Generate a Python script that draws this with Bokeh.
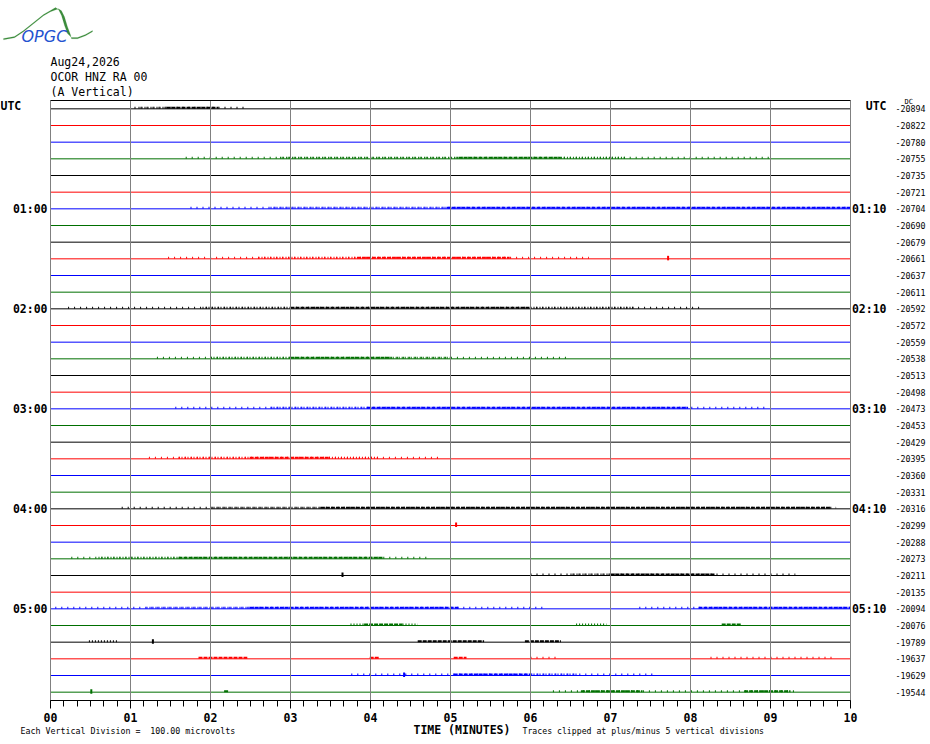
from bokeh.plotting import figure
from bokeh.models import Label, PolyAnnotation, FixedTicker, Range1d, ColumnDataSource, LinearAxis
from bokeh.embed import file_html
from bokeh.resources import INLINE

# ---------------- data ----------------
n_traces = 36
trace_colors = ["#000000", "#ff0000", "#0000ff", "#006f00"]
dc_values = [-20894, -20822, -20780, -20755, -20735, -20721, -20704, -20690, -20679,
             -20661, -20637, -20611, -20592, -20572, -20559, -20538, -20513, -20498,
             -20473, -20453, -20429, -20395, -20360, -20331, -20316, -20299, -20288,
             -20273, -20211, -20135, -20094, -20076, -19789, -19637, -19629, -19544]
left_hours = {0: "UTC", 6: "01:00", 12: "02:00", 18: "03:00", 24: "04:00", 30: "05:00"}
right_hours = {0: "UTC", 6: "01:10", 12: "02:10", 18: "03:10", 24: "04:10", 30: "05:10"}
minute_ticks = list(range(11))
minute_labels = ["00", "01", "02", "03", "04", "05", "06", "07", "08", "09", "10"]

# noisy stretches of each trace: (trace, start minute, end minute)
sparse_noise = [(0, 1.05, 2.46), (3, 1.69, 9.0), (6, 1.75, 10.0), (9, 1.47, 6.73),
                (12, 0.22, 8.16), (15, 1.33, 6.5), (18, 1.56, 8.96), (21, 1.23, 4.85),
                (24, 0.89, 9.82), (27, 0.26, 4.72), (28, 6.0, 9.31), (30, 0.06, 6.15),
                (30, 7.36, 10.0), (33, 6.0, 6.35), (33, 8.25, 9.8), (34, 3.76, 7.53),
                (35, 6.28, 9.34)]
medium_noise = [(0, 1.1, 1.45), (3, 2.87, 5.1), (3, 6.38, 7.2), (6, 2.75, 4.95),
                (9, 2.6, 3.83), (12, 1.9, 3.0), (12, 6.0, 7.3), (15, 2.0, 3.0),
                (15, 4.24, 5.0), (18, 2.75, 3.95), (21, 1.6, 2.49), (21, 3.48, 4.1),
                (24, 2.0, 3.38), (27, 0.6, 1.6), (28, 6.5, 7.0), (30, 1.2, 2.49),
                (31, 3.75, 3.92), (31, 4.4, 4.59), (31, 6.57, 6.95), (32, 0.48, 0.83),
                (34, 6.0, 6.6)]
dense_noise = [(0, 1.45, 2.1), (3, 5.1, 6.38), (6, 4.95, 10.0), (9, 3.83, 5.74),
               (12, 3.0, 6.0), (15, 3.0, 4.24), (18, 3.95, 7.97), (21, 2.49, 3.48),
               (24, 3.38, 9.76), (27, 1.6, 4.15), (28, 7.0, 8.3), (30, 2.49, 5.1),
               (30, 8.1, 10.0), (31, 3.92, 4.4), (31, 8.39, 8.64), (32, 4.59, 5.42),
               (32, 5.93, 6.38), (33, 1.85, 2.46), (33, 3.99, 4.11), (33, 5.04, 5.2),
               (34, 5.04, 6.0), (35, 2.17, 2.23), (35, 6.63, 7.4), (35, 8.67, 9.25)]
spikes = [(9, 7.72), (25, 5.07), (28, 3.65), (32, 1.28), (34, 4.42), (35, 0.51)]

# ---------------- geometry (page pixels) ----------------
W, H = 928, 740
X0_PX, PX_PER_MIN = 50, 80.0          # minute 0 at x=50, 80 px per minute
Y0_PX, PX_PER_TRACE = 100, 600 / 36   # top of trace area at y=100

def dx(px):   # page px -> minutes
    return (px - X0_PX) / PX_PER_MIN

def dy(py):   # page px -> trace units
    return (py - Y0_PX) / PX_PER_TRACE - 0.5

unit_px = PX_PER_TRACE

p = figure(width=W, height=H, x_range=Range1d(dx(0), dx(W)), y_range=Range1d(dy(H), dy(0)),
           output_backend="svg", toolbar_location=None, x_axis_location=None,
           y_axis_location=None, min_border=0)
p.outline_line_color = None
p.background_fill_color = "white"
p.border_fill_color = "white"
p.xgrid.visible = False
p.ygrid.visible = False

top_y = -0.5
bot_y = n_traces - 0.5

xa = LinearAxis(fixed_location=bot_y, bounds=(0, 10))
xa.ticker = FixedTicker(ticks=minute_ticks, minor_ticks=[i / 6 for i in range(61)])
xa.major_label_overrides = {t: l for t, l in zip(minute_ticks, minute_labels)}
xa.axis_line_color = "black"
xa.axis_line_width = 1
xa.major_tick_line_color = "black"
xa.minor_tick_line_color = "black"
xa.major_tick_in = 0
xa.major_tick_out = 8
xa.minor_tick_in = 0
xa.minor_tick_out = 6
xa.major_label_standoff = 4
xa.major_label_text_font = "DejaVu Sans Mono"
xa.major_label_text_font_style = "bold"
xa.major_label_text_font_size = "11.5px"
xa.major_label_text_color = "black"
p.add_layout(xa, "below")

# baselines
src = ColumnDataSource(dict(
    x0=[0] * n_traces, x1=[10] * n_traces, y=list(range(n_traces)),
    c=[trace_colors[i % 4] for i in range(n_traces)]))
p.segment(x0="x0", x1="x1", y0="y", y1="y", color="c", line_width=1, source=src)

def noise_src(rows, off):
    return ColumnDataSource(dict(
        x0=[r[1] for r in rows], x1=[r[2] for r in rows],
        y=[r[0] - off for r in rows], c=[trace_colors[r[0] % 4] for r in rows]))

p.segment(x0="x0", x1="x1", y0="y", y1="y", color="c", line_width=2,
          line_dash="1 5", source=noise_src(sparse_noise, 1.0 / unit_px))
p.segment(x0="x0", x1="x1", y0="y", y1="y", color="c", line_width=2,
          line_dash="1 2", source=noise_src(medium_noise, 1.0 / unit_px))
p.segment(x0="x0", x1="x1", y0="y", y1="y", color="c", line_width=2,
          line_dash="4 1", source=noise_src(dense_noise, 1.0 / unit_px))
sp = ColumnDataSource(dict(x=[s[1] for s in spikes], y0=[s[0] - 3 / unit_px for s in spikes],
                           y1=[s[0] + 1.5 / unit_px for s in spikes],
                           c=[trace_colors[s[0] % 4] for s in spikes]))
p.segment(x0="x", x1="x", y0="y0", y1="y1", color="c", line_width=2, source=sp)

# grid lines (one per minute tick, drawn over the traces) and top border
gsrc = ColumnDataSource(dict(x=minute_ticks, y0=[top_y] * len(minute_ticks),
                             y1=[bot_y] * len(minute_ticks)))
p.segment(x0="x", x1="x", y0="y0", y1="y1", color="#808080", line_width=1, source=gsrc)
p.segment(x0=[0], x1=[10], y0=[top_y], y1=[top_y], color="black", line_width=1)

# ---------------- texts ----------------
def lab(x, y, text, size, bold=False, align="left", color="black", font="DejaVu Sans Mono",
        style=None, baseline="middle"):
    p.add_layout(Label(x=x, y=y, text=text, text_font=font, text_font_size=size,
                       text_font_style=style or ("bold" if bold else "normal"),
                       text_align=align, text_baseline=baseline, text_color=color))

lab(dx(50), dy(61), "Aug24,2026", "11.5px")
lab(dx(50), dy(76), "OCOR HNZ RA 00", "11.5px")
lab(dx(50), dy(91), "(A Vertical)", "11.5px")

for t, s in left_hours.items():
    if s == "UTC":
        lab(dx(0), t - 0.15, s, "11.5px", bold=True)
    else:
        lab(dx(47), t, s, "11.5px", bold=True, align="right")
for t, s in right_hours.items():
    lab(dx(886), t - (0.15 if s == "UTC" else 0), s, "11.5px", bold=True, align="right")

for i, v in enumerate(dc_values):
    lab(dx(895), i, str(v), "8.3px")
lab(dx(904), dy(101), "DC", "7px")

lab(dx(413), dy(729), "TIME (MINUTES)", "11.5px", bold=True)
lab(dx(20), dy(730), "Each Vertical Division =\u00a0 100.00 microvolts", "8.3px")
lab(dx(522), dy(730), "Traces clipped at plus/minus 5 vertical divisions", "8.2px")

# logo
logo_pts = [(3, 38), (14, 36), (23, 30), (33, 22), (43, 14), (50, 10), (55, 7), (58, 9),
            (61, 15), (64, 25), (67, 33), (71, 37), (77, 37), (85, 34), (92, 30)]
upper = [(dx(x), dy(y)) for x, y in logo_pts]
lower = [(dx(x + (3 if 55 <= x <= 67 else 0)), dy(y + 1.3)) for x, y in reversed(logo_pts)]
poly = upper + lower
p.add_layout(PolyAnnotation(xs=[a for a, b in poly], ys=[b for a, b in poly],
                            fill_color="#3c8c3c", fill_alpha=1, line_color="#3c8c3c",
                            line_width=0.5))
lab(dx(21), dy(36), "OPGC", "16px", color="#2452d0", font="DejaVu Sans", style="italic")

open("out.html", "w").write(file_html(p, INLINE))
